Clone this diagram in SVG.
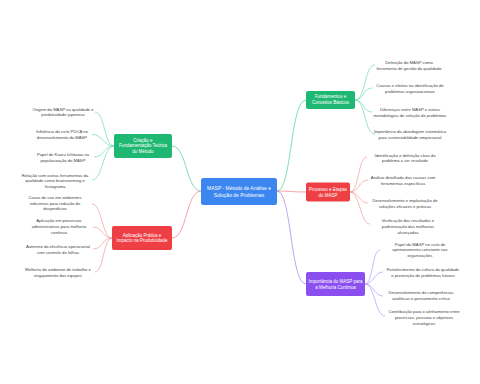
<svg xmlns="http://www.w3.org/2000/svg" width="480" height="384" viewBox="0 0 480 384">
<style>
.leaf{font-family:"Liberation Sans",Arial,sans-serif;font-size:4.2px;fill:#444;text-anchor:middle}
.nt{font-family:"Liberation Sans",Arial,sans-serif;font-size:4.5px;fill:#fff;text-anchor:middle}
.ct{font-family:"Liberation Sans",Arial,sans-serif;font-size:5px;fill:#fff;text-anchor:middle}
.c{fill:none;stroke-width:0.7}
.g{stroke:#6fdcaa}.r{stroke:#f59aa0}.p{stroke:#b89af5}
.gm{stroke:#4fcf94}.rm{stroke:#f27a80}.pm{stroke:#a27cf2}
</style>
<rect width="480" height="384" fill="#fff"/>
<g id="connectors">
<path class="c gm" d="M277,191 C292,191 290,100 306,100"/>
<path class="c rm" d="M277,191 C292,191 290,192 306,192"/>
<path class="c pm" d="M277,191 C292,191 290,284 306,284"/>
<path class="c gm" d="M201,191 C186,191 187,146 172,146"/>
<path class="c rm" d="M201,191 C186,191 187,238 172,238"/>
<path class="c g" d="M355,100 C366,100 364,65 375,65"/>
<path class="c g" d="M355,100 C364,100 363,88 372,88"/>
<path class="c g" d="M355,100 C364,100 363,112 372,112"/>
<path class="c g" d="M355,100 C366,100 364,134 375,134"/>
<path class="c r" d="M350,192 C359,192 358,157 367,157"/>
<path class="c r" d="M350,192 C359,192 359,180 368,180"/>
<path class="c r" d="M350,192 C359,192 359,203 368,203"/>
<path class="c r" d="M350,192 C360,192 360,224 370,224"/>
<path class="c p" d="M365,284 C373,284 372,250 380,250"/>
<path class="c p" d="M365,284 C374,284 374,272 383,272"/>
<path class="c p" d="M365,284 C374,284 374,296 383,296"/>
<path class="c p" d="M365,284 C375,284 375,316 385,316"/>
<path class="c g" d="M114,146 C104,146 105,112 95,112"/>
<path class="c g" d="M114,146 C103,146 103,134.5 92,134.5"/>
<path class="c g" d="M114,146 C104,146 104,157 94,157"/>
<path class="c g" d="M114,146 C103,146 103,180 92,180"/>
<path class="c r" d="M112,238 C102,238 102,204 92,204"/>
<path class="c r" d="M112,238 C102,238 103,227 93,227"/>
<path class="c r" d="M112,238 C102,238 103,249 93,249"/>
<path class="c r" d="M112,238 C103,238 104,272 95,272"/>
</g>
<g id="center">
<rect x="201" y="178" width="76" height="27" rx="2.5" fill="#3b86ef"/>
<text class="ct" x="239" y="190">MASP - Método de Análise e</text>
<text class="ct" x="239" y="196.8">Solução de Problemas</text>
</g>
<g id="n-fund">
<rect x="306" y="91" width="49" height="18" rx="2" fill="#1fb872"/>
<text class="nt" x="330.5" y="98.3">Fundamentos e</text>
<text class="nt" x="330.5" y="104.3">Conceitos Básicos</text>
</g>
<g id="n-proc">
<rect x="306" y="182.5" width="44" height="19" rx="2" fill="#ee3f45"/>
<text class="nt" x="328" y="190.5">Processo e Etapas</text>
<text class="nt" x="328" y="196.5">do MASP</text>
</g>
<g id="n-imp">
<rect x="306" y="272" width="59" height="24" rx="2" fill="#8b4ff0"/>
<text class="nt" x="335.5" y="283.2">Importância do MASP para</text>
<text class="nt" x="335.5" y="289">a Melhoria Contínua</text>
</g>
<g id="n-cri">
<rect x="114" y="134" width="58" height="24" rx="2" fill="#1fb872"/>
<text class="nt" x="143" y="141.5">Criação e</text>
<text class="nt" x="143" y="147.3">Fundamentação Teórica</text>
<text class="nt" x="143" y="153.1">do Método</text>
</g>
<g id="n-apl">
<rect x="112" y="226" width="60" height="24" rx="2" fill="#ee3f45"/>
<text class="nt" x="142" y="236.5">Aplicação Prática e</text>
<text class="nt" x="142" y="242.3">Impacto na Produtividade</text>
</g>
<g id="l-rg1"><text class="leaf" x="409" y="63.8">Definição do MASP como</text><text class="leaf" x="409" y="69.8">ferramenta de gestão da qualidade</text></g>
<g id="l-rg2"><text class="leaf" x="410" y="86.5">Causas e efeitos na identificação de</text><text class="leaf" x="410" y="92.5">problemas organizacionais</text></g>
<g id="l-rg3"><text class="leaf" x="410" y="110.8">Diferenças entre MASP e outras</text><text class="leaf" x="410" y="116.6">metodologias de solução de problemas</text></g>
<g id="l-rg4"><text class="leaf" x="410" y="133">Importância da abordagem sistemática</text><text class="leaf" x="410" y="138.8">para sustentabilidade empresarial</text></g>
<g id="l-rr1"><text class="leaf" x="405" y="156.5">Identificação e definição clara do</text><text class="leaf" x="405" y="162.3">problema a ser resolvido</text></g>
<g id="l-rr2"><text class="leaf" x="403" y="178.8">Análise detalhada das causas com</text><text class="leaf" x="403" y="184.6">ferramentas específicas</text></g>
<g id="l-rr3"><text class="leaf" x="405" y="202.2">Desenvolvimento e implantação de</text><text class="leaf" x="405" y="208">soluções eficazes e práticas</text></g>
<g id="l-rr4"><text class="leaf" x="408" y="222">Verificação dos resultados e</text><text class="leaf" x="408" y="227.8">padronização das melhorias</text><text class="leaf" x="408" y="233.6">alcançadas</text></g>
<g id="l-rp1"><text class="leaf" x="420" y="245.5">Papel do MASP no ciclo de</text><text class="leaf" x="420" y="251.3">aprimoramento constante nas</text><text class="leaf" x="420" y="257.1">organizações</text></g>
<g id="l-rp2"><text class="leaf" x="423" y="270.8">Fortalecimento da cultura da qualidade</text><text class="leaf" x="423" y="276.6">e prevenção de problemas futuros</text></g>
<g id="l-rp3"><text class="leaf" x="421" y="294.2">Desenvolvimento de competências</text><text class="leaf" x="421" y="300">analíticas e pensamento crítico</text></g>
<g id="l-rp4"><text class="leaf" x="424" y="313.2">Contribuição para o alinhamento entre</text><text class="leaf" x="424" y="319">processos, pessoas e objetivos</text><text class="leaf" x="424" y="324.8">estratégicos</text></g>
<g id="l-lg1"><text class="leaf" x="63" y="110.5">Origem do MASP na qualidade e</text><text class="leaf" x="63" y="116.3">produtividade japonesa</text></g>
<g id="l-lg2"><text class="leaf" x="62" y="133.2">Influência do ciclo PDCA no</text><text class="leaf" x="62" y="139">desenvolvimento do MASP</text></g>
<g id="l-lg3"><text class="leaf" x="63" y="155.8">Papel de Kaoru Ishikawa na</text><text class="leaf" x="63" y="161.6">popularização do MASP</text></g>
<g id="l-lg4"><text class="leaf" x="55" y="176.5">Relação com outras ferramentas da</text><text class="leaf" x="55" y="182.3">qualidade como brainstorming e</text><text class="leaf" x="55" y="188.1">histograma</text></g>
<g id="l-lr1"><text class="leaf" x="55" y="198.8">Casos de uso em ambientes</text><text class="leaf" x="55" y="204.6">industriais para redução de</text><text class="leaf" x="55" y="210.4">desperdícios</text></g>
<g id="l-lr2"><text class="leaf" x="59" y="222.2">Aplicação em processos</text><text class="leaf" x="59" y="228">administrativos para melhoria</text><text class="leaf" x="59" y="233.8">contínua</text></g>
<g id="l-lr3"><text class="leaf" x="58" y="248.2">Aumento da eficiência operacional</text><text class="leaf" x="58" y="254">com controle de falhas</text></g>
<g id="l-lr4"><text class="leaf" x="58" y="270.8">Melhoria do ambiente de trabalho e</text><text class="leaf" x="58" y="276.6">engajamento das equipes</text></g>
</svg>
